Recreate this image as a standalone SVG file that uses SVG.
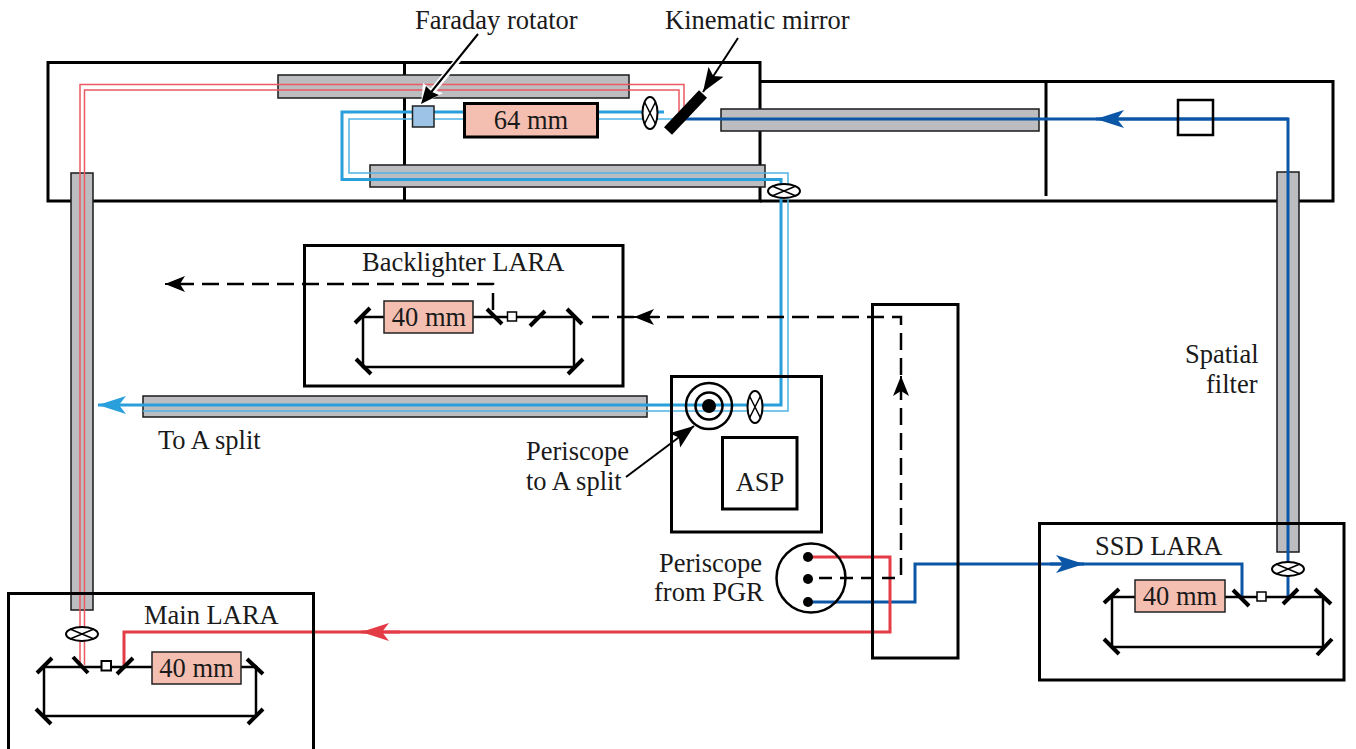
<svg xmlns="http://www.w3.org/2000/svg" width="1356" height="749" viewBox="0 0 1356 749">
<style>
text{font-family:"Liberation Serif","Times New Roman",serif;font-size:26.500px;fill:#1a1a1a}
.m{text-anchor:middle}
.frame{fill:none;stroke:#000;stroke-width:3}
.fine{fill:none;stroke:#000;stroke-width:2.500}
.bar{fill:#bcbdc0;stroke:#1a1a1a;stroke-width:1.500}
.amp{fill:#f4bfb1;stroke:#222;stroke-width:1.500}
.iso{fill:#fff;stroke:#000;stroke-width:2}
.mir{fill:none;stroke:#000;stroke-width:4}
.beam{fill:none;stroke-width:3}
.thin{fill:none;stroke-width:1.500}
.red{stroke:#e43c46}.lred{stroke:#ea5a62}
.blue{stroke:#29a0dc}.lblue{stroke:#4fb2e4}
.navy{stroke:#0b56a6}
.dash{fill:none;stroke:#000;stroke-width:2.500;stroke-dasharray:17 8}
.dash2{fill:none;stroke:#000;stroke-width:2.500;stroke-dasharray:13 8}
.ptr{fill:none;stroke:#000;stroke-width:2}
</style>
<defs>
<marker id="hRed" markerUnits="userSpaceOnUse" markerWidth="30" markerHeight="20" refX="28" refY="10" orient="auto"><path d="M0 1L28 10L0 19L7 10Z" fill="#e43c46"/></marker>
<marker id="hBlue" markerUnits="userSpaceOnUse" markerWidth="30" markerHeight="20" refX="28" refY="10" orient="auto"><path d="M0 1L28 10L0 19L7 10Z" fill="#29a0dc"/></marker>
<marker id="hNavy" markerUnits="userSpaceOnUse" markerWidth="30" markerHeight="20" refX="28" refY="10" orient="auto"><path d="M0 1L28 10L0 19L7 10Z" fill="#0b56a6"/></marker>
<marker id="hBlack" markerUnits="userSpaceOnUse" markerWidth="22" markerHeight="18" refX="20" refY="9" orient="auto"><path d="M0 1L20 9L0 17L5 9Z" fill="#000"/></marker>
<marker id="hPtr" markerUnits="userSpaceOnUse" markerWidth="26" markerHeight="20" refX="24" refY="10" orient="auto"><path d="M0 1L24 10L0 19L5 10Z" fill="#000"/></marker>
</defs>

<g id="building">
<rect class="frame" x="48" y="62.500" width="712" height="138.500"/>
<path class="frame" d="M760 81.500H1333V201H760M404.500 62.500V201M1046 81.500V196"/>
</g>

<g id="bars">
<rect class="bar" x="278" y="75" width="351" height="23"/>
<rect class="bar" x="721" y="109" width="318" height="22"/>
<rect class="bar" x="370" y="165" width="395" height="22"/>
<rect class="bar" x="71" y="173" width="22" height="437"/>
<rect class="bar" x="1277" y="172" width="22" height="380"/>
<rect class="bar" x="143" y="396" width="504" height="21"/>
</g>

<g id="connectors">
<path class="thin lred" d="M80 665V84.500H684V112"/>
<path class="thin lred" d="M84.500 665V90H679V112"/>
<path class="beam blue" d="M664 112H342V179.500H781V405H98" marker-end="url(#hBlue)"/>
<path class="thin lblue" d="M680 119H349V173H788V411H143"/>
<path class="beam navy" d="M680 119H1288V597"/>
<path class="beam navy" d="M1288 119H1096" marker-end="url(#hNavy)"/>
<path class="beam navy" d="M808 602H915V564H1242V597"/>
<path class="beam navy" d="M1050 564H1084" marker-end="url(#hNavy)"/>
<path class="beam red" d="M808 557H890V632H124V667"/>
<path class="beam red" d="M400 632H361" marker-end="url(#hRed)"/>
<path class="dash" d="M493 310V284H175"/>
<path d="M190 284H165" fill="none" stroke="#000" stroke-width="2" marker-end="url(#hBlack)"/>
<path class="dash" d="M592 317H901V577"/>
<path class="dash2" d="M819 578H896"/>
<path d="M660 317H634" fill="none" stroke="#000" stroke-width="2" marker-end="url(#hBlack)"/>
<path d="M901 400V376" fill="none" stroke="#000" stroke-width="2" marker-end="url(#hBlack)"/>
</g>

<g id="kinematic-mirror"><path d="M668 131L703 94" stroke="#000" stroke-width="11" fill="none"/></g>
<g id="faraday-rotator"><rect x="412.500" y="106" width="21.500" height="21" fill="#9dc3e6" stroke="#222" stroke-width="1.500"/></g>
<g id="amp-64"><rect x="464.500" y="103.500" width="133" height="33.500" fill="#f4bfb1" stroke="#000" stroke-width="3"/><text class="m" x="531" y="129">64 mm</text></g>
<g id="spatial-filter-box"><rect x="1178" y="100" width="35" height="35" fill="none" stroke="#000" stroke-width="2.500"/></g>

<g id="lenses">
<g class="iso"><ellipse cx="650" cy="113" rx="7.500" ry="16"/><path d="M644.500 102L655.500 124M655.500 102L644.500 124" fill="none" stroke-width="1.500"/></g>
<g class="iso"><ellipse cx="784" cy="191" rx="16" ry="7"/><path d="M772 186L796 196M796 186L772 196" fill="none" stroke-width="1.500"/></g>
<g class="iso"><ellipse cx="755" cy="407" rx="7.500" ry="16"/><path d="M749.500 396L760.500 418M760.500 396L749.500 418" fill="none" stroke-width="1.500"/></g>
<g class="iso"><ellipse cx="82" cy="634" rx="16" ry="7"/><path d="M70 629L94 639M94 629L70 639" fill="none" stroke-width="1.500"/></g>
<g class="iso"><ellipse cx="1288" cy="569" rx="16" ry="7"/><path d="M1276 564L1300 574M1300 564L1276 574" fill="none" stroke-width="1.500"/></g>
</g>

<g id="backlighter-lara">
<rect class="frame" x="304.500" y="245.500" width="318.500" height="140.500"/>
<path class="fine" d="M363 317H574V367H363Z"/>
<path class="mir" d="M355 323L370 308M356 359L371 374M583 359L568 374M567 309L582 324M487 309L502 324M530 326L545 311"/>
<rect x="507.500" y="312" width="9" height="9" fill="#fff" stroke="#000" stroke-width="1.500"/>
<rect class="amp" x="384" y="301" width="89" height="32"/>
<text class="m" x="429" y="326">40 mm</text>
<text x="362" y="271">Backlighter LARA</text>
</g>

<g id="main-lara">
<rect class="frame" x="8.500" y="593.500" width="305" height="157"/>
<path class="fine" d="M44 667H256V716H44Z"/>
<path class="mir" d="M37 673L52 658M247 659L263 674M36 709L51 724M263 709L248 724M73 657L88 673M117 674L133 658"/>
<rect x="101.500" y="661" width="9.500" height="9.500" fill="#fff" stroke="#000" stroke-width="2"/>
<rect class="amp" x="152" y="652" width="89" height="32"/>
<text class="m" x="196.500" y="677">40 mm</text>
<text x="144" y="624">Main LARA</text>
</g>

<g id="ssd-lara">
<rect class="frame" x="1039.500" y="523.500" width="304.500" height="156.500"/>
<path class="fine" d="M1112 597H1323V647H1112Z"/>
<path class="mir" d="M1104 603L1119 589M1315 589L1331 604M1104 639L1119 654M1332 639L1317 655M1233 590L1249 606M1283 604L1298 589"/>
<rect x="1257" y="592" width="9" height="9" fill="#fff" stroke="#000" stroke-width="1.500"/>
<rect class="amp" x="1135" y="580" width="90" height="32"/>
<text class="m" x="1180" y="605">40 mm</text>
<text x="1095" y="555">SSD LARA</text>
</g>

<g id="asp-station">
<rect class="frame" x="671.500" y="376.500" width="150" height="155.500"/>
<rect class="frame" x="722.500" y="437.500" width="74.500" height="71.500"/>
<text class="m" x="760" y="491">ASP</text>
<circle cx="709" cy="406" r="23" fill="none" stroke="#000" stroke-width="2.500"/>
<circle cx="709" cy="406" r="13.500" fill="none" stroke="#000" stroke-width="2.500"/>
<circle cx="709" cy="406" r="7" fill="#000"/>
</g>

<g id="wall"><rect class="frame" x="872.500" y="304.500" width="85.500" height="353.500"/></g>

<g id="periscope-pgr">
<circle cx="811" cy="578" r="34.500" fill="none" stroke="#000" stroke-width="2.500"/>
<circle cx="808" cy="557" r="5"/><circle cx="808" cy="579" r="5"/><circle cx="808" cy="602" r="5"/>
<text x="659" y="572">Periscope</text>
<text x="654" y="601">from PGR</text>
</g>

<g id="labels">
<path d="M466 50L430 94" stroke="#fff" stroke-width="6" fill="none"/>
<path d="M423 83L433 90L443 93L421 105Z" fill="#fff"/>
<path class="ptr" d="M478 34L428 96"/>
<path d="M426 86L432 92L439 95L421 104Z" fill="#000"/>
<path class="ptr" d="M738 38L703 92" marker-end="url(#hPtr)"/>
<path class="ptr" d="M626 477L694 426" marker-end="url(#hPtr)"/>
<text x="415" y="29">Faraday rotator</text>
<text x="665" y="29">Kinematic mirror</text>
<text x="158" y="449">To A split</text>
<text x="526" y="460">Periscope</text>
<text x="526" y="490">to A split</text>
<text x="1185" y="363">Spatial</text>
<text x="1206" y="393">filter</text>
</g>
</svg>
